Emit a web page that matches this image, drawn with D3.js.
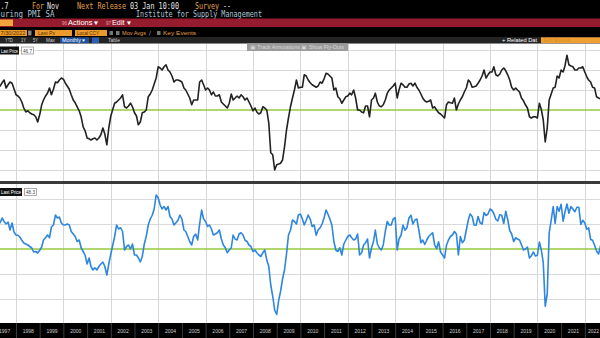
<!DOCTYPE html>
<html>
<head>
<meta charset="utf-8">
<script src="https://cdn.jsdelivr.net/npm/d3@7"></script>
<style>
  html, body { margin: 0; padding: 0; background: #000; overflow: hidden; }
  svg { display: block; }
</style>
</head>
<body>
<svg id="chart" width="600" height="338"></svg>
<script>
// Monthly series, first value is January of this year
const firstYear = 1997;

// ISM Manufacturing PMI, seasonally adjusted (one row per year)
const pmi = [
  53.5, 54.5, 55.7, 56.0, 56.8, 57.5, 55.5, 56.3, 57.0, 56.7, 55.3, 53.8,
  53.5, 53.0, 52.0, 50.5, 49.5, 49.8, 49.3, 49.0, 48.8, 48.3, 47.0, 48.8,
  51.3, 52.5, 53.5, 54.2, 55.5, 53.8, 55.2, 57.0, 56.8, 57.5, 58.0, 57.7,
  56.7, 56.0, 55.2, 53.8, 52.5, 51.8, 50.8, 49.8, 48.3, 45.8, 44.8, 43.0,
  42.8, 42.5, 42.8, 43.0, 42.5, 43.0, 43.8, 45.5, 44.0, 41.3, 45.5, 48.5,
  50.2, 51.7, 52.0, 52.5, 53.0, 53.8, 50.8, 50.5, 51.0, 51.7, 50.8, 49.3,
  48.5, 46.3, 47.0, 49.3, 49.5, 50.0, 53.3, 54.0, 55.0, 56.5, 58.0, 60.8,
  60.5, 60.0, 60.8, 61.3, 60.0, 59.5, 58.5, 57.0, 57.5, 57.5, 57.3, 57.0,
  55.5, 55.0, 54.0, 53.0, 51.3, 52.5, 52.5, 52.5, 57.0, 57.5, 56.3, 55.0,
  55.5, 55.0, 53.8, 54.5, 53.5, 53.5, 53.8, 52.0, 51.5, 51.0, 50.5, 51.7,
  54.0, 52.5, 53.0, 53.5, 53.0, 53.8, 53.3, 52.5, 53.0, 52.0, 51.0, 49.8,
  50.5, 49.5, 49.0, 49.3, 50.8, 50.5, 50.0, 46.7, 39.3, 38.8, 35.0, 36.3,
  36.5, 36.7, 37.5, 40.8, 45.0, 48.0, 50.8, 53.0, 55.0, 57.5, 55.5, 55.7,
  55.7, 58.8, 58.5, 57.5, 56.8, 56.3, 56.0, 55.7, 56.0, 57.0, 56.7, 57.8,
  59.2, 59.0, 58.5, 58.0, 55.0, 55.5, 53.3, 52.8, 51.7, 52.5, 53.3, 53.5,
  54.2, 53.8, 55.0, 53.0, 50.0, 50.0, 49.5, 49.3, 51.0, 51.0, 48.3, 52.5,
  53.0, 54.2, 52.0, 51.0, 50.8, 51.3, 52.5, 54.2, 55.0, 55.5, 56.0, 56.7,
  53.0, 55.0, 56.7, 56.3, 55.7, 55.7, 56.5, 56.7, 56.0, 56.7, 55.7, 55.0,
  54.0, 53.0, 52.3, 52.0, 52.2, 52.5, 50.5, 50.8, 50.0, 49.3, 49.0, 48.5,
  48.0, 51.3, 52.0, 51.8, 51.7, 53.0, 50.0, 51.5, 52.5, 53.3, 54.5, 55.5,
  57.5, 57.0, 55.7, 55.8, 56.0, 56.7, 57.5, 58.5, 60.0, 58.0, 58.8, 59.5,
  59.5, 60.8, 58.8, 58.5, 59.0, 60.0, 60.5, 59.8, 58.8, 57.5, 55.7, 55.0,
  55.5, 55.0, 54.5, 53.0, 52.3, 51.3, 50.5, 48.3, 48.0, 48.3, 48.3, 48.0,
  51.7, 50.2, 47.5, 42.0, 45.5, 52.5, 54.0, 55.5, 55.7, 58.5, 58.0, 60.0,
  59.5, 61.0, 63.7, 61.3, 61.0, 60.8, 60.0, 60.0, 60.5, 60.5, 60.8, 59.5,
  58.3, 57.5, 57.0, 55.7, 55.5, 53.3, 53.0, 52.8, 50.9, 50.2, 49.0, 48.4,
  47.4, 47.7, 46.3, 47.1, 46.9, 46.0, 46.4, 47.6, 49.0, 46.7, 46.7
];

// ISM Manufacturing New Orders index (one row per year)
const newOrders = [
  58.0, 59.0, 61.6, 60.5, 62.4, 61.0, 60.0, 60.8, 57.6, 60.4, 56.8, 55.6,
  55.5, 54.8, 53.5, 52.4, 52.0, 51.6, 51.0, 50.4, 48.8, 49.0, 48.4, 49.5,
  50.8, 53.6, 54.5, 55.6, 54.5, 58.8, 59.6, 63.6, 62.4, 62.8, 60.4, 59.6,
  59.6, 60.0, 59.6, 57.0, 56.0, 55.0, 53.0, 53.6, 50.5, 49.0, 47.5, 44.0,
  46.4, 43.0, 41.6, 42.5, 41.6, 43.0, 44.0, 44.8, 43.0, 39.6, 44.0, 48.0,
  51.6, 55.0, 59.6, 58.0, 58.5, 57.0, 49.6, 51.0, 51.6, 50.0, 52.0, 47.6,
  47.6, 46.5, 44.8, 47.0, 52.0, 55.0, 59.6, 62.0, 63.5, 66.0, 71.6, 70.5,
  67.6, 66.0, 67.0, 65.6, 67.0, 63.0, 62.0, 59.6, 60.5, 61.5, 63.6, 62.0,
  57.6, 57.0, 55.0, 53.0, 51.6, 55.0, 56.0, 53.6, 60.0, 65.6, 62.0, 61.0,
  59.0, 59.6, 58.0, 55.6, 56.0, 56.5, 57.6, 54.0, 51.6, 50.5, 48.5, 49.6,
  50.5, 55.6, 54.0, 53.6, 56.0, 56.5, 55.6, 53.5, 53.0, 51.6, 51.0, 49.0,
  49.6, 48.5, 47.6, 47.0, 48.5, 49.6, 45.6, 43.0, 35.6, 31.0, 25.5, 23.8,
  29.6, 33.0, 38.0, 41.6, 48.0, 55.6, 57.5, 61.6, 61.0, 60.0, 63.6, 64.0,
  62.0, 59.6, 61.5, 63.6, 62.0, 59.0, 59.6, 55.5, 57.6, 58.5, 60.0, 62.5,
  65.6, 64.0, 62.0, 59.6, 53.0, 49.6, 49.0, 50.5, 47.6, 52.0, 53.5, 55.0,
  55.6, 54.5, 53.6, 54.0, 56.0, 47.6, 48.5, 51.6, 52.5, 54.0, 46.4, 50.5,
  53.0, 57.6, 52.0, 50.5, 49.6, 51.6, 57.0, 61.0, 59.6, 59.6, 62.0, 62.5,
  49.6, 54.0, 55.5, 59.6, 57.5, 58.5, 62.4, 63.5, 60.0, 61.6, 62.0, 57.5,
  52.5, 53.6, 51.8, 53.5, 55.0, 55.8, 56.5, 51.7, 50.1, 52.9, 48.8, 47.6,
  46.4, 51.5, 53.6, 55.0, 55.6, 57.0, 56.0, 47.6, 55.0, 52.5, 53.5, 57.6,
  61.6, 64.0, 63.0, 59.6, 59.5, 63.0, 60.5, 60.0, 64.6, 63.4, 64.0, 66.0,
  65.4, 64.2, 61.9, 61.2, 63.7, 63.5, 60.2, 65.1, 61.8, 57.4, 56.0, 53.0,
  54.5, 54.0, 53.6, 51.7, 49.6, 50.0, 50.8, 46.4, 47.3, 48.8, 47.2, 47.5,
  52.8, 49.8, 44.5, 27.1, 32.0, 56.4, 61.5, 67.0, 60.2, 67.0, 65.1, 67.9,
  61.1, 64.8, 68.0, 64.3, 67.0, 66.0, 64.9, 66.7, 66.7, 59.8, 61.5, 60.4,
  57.9, 58.5, 53.8, 53.5, 51.5, 49.2, 48.0, 51.3, 47.1, 49.2, 47.2, 45.2,
  42.5, 47.0, 44.3, 45.7, 42.6, 45.6, 47.3, 46.8, 49.2, 45.5, 48.3
];

const yearLabels = [1997, 1998, 1999, 2000, 2001, 2002, 2003, 2004, 2005, 2006, 2007, 2008, 2009,
                    2010, 2011, 2012, 2013, 2014, 2015, 2016, 2017, 2018, 2019, 2020, 2021, 2022, 2023];
const pmiGridValues = [35, 40, 45, 55, 60, 65];
const ordersGridValues = [30, 40, 60, 70];
const expansionLevel = 50;
const lastPmi = "46.7";
const lastOrders = "48.3";

const svg = d3.select("#chart");
const W = 600;

// ---- header strip ----------------------------------------------------------
svg.append("rect").attr("x", 0).attr("y", 0).attr("width", W).attr("height", 44).attr("fill", "#000");

function label(x, y, str, opt) {
  const t = svg.append("text").attr("x", x).attr("y", y).text(str)
    .attr("fill", opt.fill || "#ddd")
    .attr("font-family", opt.family || "'DejaVu Sans Mono', monospace")
    .attr("font-size", opt.size || 8)
    .attr("font-weight", opt.weight || "normal");
  if (opt.len) t.attr("textLength", opt.len).attr("lengthAdjust", "spacingAndGlyphs");
  if (opt.anchor) t.attr("text-anchor", opt.anchor);
  return t;
}
const amber = "#e3a04a", white = "#e8e8e8", pale = "#a9c7d6";

// row 1: last value and release details
label(0.5, 8.5, ".7", { fill: white, len: 8 });
label(32, 8.5, "For", { fill: amber, len: 12 });
label(47, 8.5, "Nov", { fill: white, len: 12 });
label(77, 8.5, "Next Release", { fill: amber, len: 49 });
label(130, 8.5, "03 Jan 10:00", { fill: white, len: 49 });
label(195, 8.5, "Survey", { fill: amber, len: 24 });
label(223, 8.5, "--", { fill: white, len: 8 });

// row 2: security description and source
label(0.5, 16.5, "uring PMI SA", { fill: pale, len: 54 });
label(136, 16.5, "Institute for Supply Management", { fill: pale, len: 126 });

// red action bar
svg.append("rect").attr("x", 0).attr("y", 18.5).attr("width", W).attr("height", 8.5).attr("fill", "#951c2e");
svg.append("rect").attr("x", 0).attr("y", 19.5).attr("width", 13).attr("height", 6.5).attr("fill", "#f2a53a");
label(62, 25, "96", { fill: "#f0a0a8", size: 5, family: "'Liberation Sans', sans-serif", len: 5 });
label(68, 25.2, "Actions \u25BE", { fill: "#fff", size: 6.5, family: "'Liberation Sans', sans-serif", len: 31 });
label(106, 25, "97", { fill: "#f0a0a8", size: 5, family: "'Liberation Sans', sans-serif", len: 5 });
label(112, 25.2, "Edit \u25BE", { fill: "#fff", size: 6.5, family: "'Liberation Sans', sans-serif", len: 19 });

// row 3: settings fields
const fieldFill = "#eb9a2c", fieldText = "#5a3000";
svg.append("rect").attr("x", 0).attr("y", 30).attr("width", 27).attr("height", 6).attr("fill", fieldFill);
label(0.5, 35.3, "7/30/2022", { fill: fieldText, size: 5.5, family: "'Liberation Sans', sans-serif", len: 25 });
svg.append("rect").attr("x", 28).attr("y", 30.5).attr("width", 3.5).attr("height", 5).attr("fill", "#888");
svg.append("rect").attr("x", 35).attr("y", 30).attr("width", 37).attr("height", 6).attr("fill", fieldFill);
label(38, 35.3, "Last Px", { fill: fieldText, size: 5.5, family: "'Liberation Sans', sans-serif", len: 17 });
svg.append("rect").attr("x", 75).attr("y", 30).attr("width", 32).attr("height", 6).attr("fill", fieldFill);
label(77, 35.3, "Local CCY", { fill: fieldText, size: 5.5, family: "'Liberation Sans', sans-serif", len: 22 });
svg.append("rect").attr("x", 109.5).attr("y", 31).attr("width", 3.5).attr("height", 4).attr("fill", "#777");
svg.append("rect").attr("x", 116).attr("y", 31).attr("width", 3.5).attr("height", 4).attr("fill", "#777");
label(122, 35.3, "Mov Avgs", { fill: amber, size: 5.5, family: "'Liberation Sans', sans-serif", len: 24 });
label(149, 35.3, "\u2215", { fill: "#bbb", size: 5.5, family: "'DejaVu Sans', sans-serif" });
svg.append("rect").attr("x", 157).attr("y", 31).attr("width", 3.5).attr("height", 4).attr("fill", "#777");
label(163, 35.3, "Key Events", { fill: amber, size: 5.5, family: "'Liberation Sans', sans-serif", len: 33 });

// row 4: range toolbar
svg.append("rect").attr("x", 0).attr("y", 37).attr("width", W).attr("height", 6.5).attr("fill", "#242424");
const tb = { fill: "#cfcfcf", size: 4.6, family: "'Liberation Sans', sans-serif" };
label(5, 42, "YTD", Object.assign({ len: 8 }, tb));
label(21, 42, "1Y", Object.assign({ len: 5 }, tb));
label(33, 42, "5Y", Object.assign({ len: 5 }, tb));
label(46, 42, "Max", Object.assign({ len: 9 }, tb));
svg.append("rect").attr("x", 60).attr("y", 37.5).attr("width", 29).attr("height", 5.5).attr("fill", "#1c4fa0");
label(62, 42, "Monthly \u25BE", { fill: "#fff", size: 4.6, family: "'Liberation Sans', sans-serif", len: 24 });
svg.append("rect").attr("x", 92).attr("y", 37.5).attr("width", 7).attr("height", 5.5).attr("fill", "#2b5fb5");
label(108, 42, "Table", Object.assign({ len: 12 }, tb));
label(502, 42, "+ Related Dat", { fill: "#fff", size: 4.6, family: "'Liberation Sans', sans-serif", len: 35 });
svg.append("rect").attr("x", 541).attr("y", 37.3).attr("width", 59).attr("height", 5.9).attr("fill", "#f0a033");
label(544, 42, "Edit Events", { fill: "#d88a22", size: 4.6, family: "'Liberation Sans', sans-serif", len: 26 });

// ---- panels ---------------------------------------------------------------
const topPanel = { y0: 43.5, y1: 181 };
const botPanel = { y0: 184, y1: 323 };

svg.append("rect").attr("x", 0).attr("y", topPanel.y0).attr("width", W).attr("height", topPanel.y1 - topPanel.y0).attr("fill", "#fff");
svg.append("rect").attr("x", 0).attr("y", topPanel.y1).attr("width", W).attr("height", botPanel.y0 - topPanel.y1).attr("fill", "#3a3a3a");
svg.append("rect").attr("x", 0).attr("y", botPanel.y0).attr("width", W).attr("height", botPanel.y1 - botPanel.y0).attr("fill", "#fff");
svg.append("rect").attr("x", 0).attr("y", botPanel.y1).attr("width", W).attr("height", 338 - botPanel.y1).attr("fill", "#000");

// scales
const x = d3.scaleTime()
  .domain([new Date(1998, 0, 1), new Date(2022, 0, 1)])
  .range([16, 584.8]);
const yTop = d3.scaleLinear().domain([50, 65]).range([110, 50]);
const yBot = d3.scaleLinear().domain([50, 70]).range([249, 199]);

// each monthly reading sits at the end of its month
const monthDate = i => new Date(firstYear, i + 1, 1);

const evenYears = yearLabels.filter(y => y % 2 === 0).map(y => new Date(y, 0, 1));

function drawGrid(panel, yScale, values) {
  const g = svg.append("g");
  // vertical grid every two years
  g.append("g")
    .attr("transform", `translate(0,${panel.y1})`)
    .call(d3.axisBottom(x).tickValues(evenYears).tickSize(-(panel.y1 - panel.y0)).tickFormat(""))
    .call(a => a.select(".domain").remove())
    .call(a => a.selectAll("line").attr("stroke", "#d6d6d6").attr("stroke-width", 1)
      .attr("shape-rendering", "crispEdges"));
  // horizontal grid
  g.append("g")
    .call(d3.axisLeft(yScale).tickValues(values).tickSize(-W).tickFormat(""))
    .call(a => a.select(".domain").remove())
    .call(a => a.selectAll("line").attr("stroke", "#dadada").attr("stroke-width", 1)
      .attr("shape-rendering", "crispEdges"));
  // 50 = expansion / contraction threshold
  g.append("line")
    .attr("x1", 0).attr("x2", W)
    .attr("y1", yScale(expansionLevel)).attr("y2", yScale(expansionLevel))
    .attr("stroke", "#96c93d").attr("stroke-width", 1.6);
}

drawGrid(topPanel, yTop, pmiGridValues);
drawGrid(botPanel, yBot, ordersGridValues);

// clip lines to their panels
const defs = svg.append("defs");
defs.append("clipPath").attr("id", "clipTop").append("rect")
  .attr("x", 0).attr("y", topPanel.y0).attr("width", W).attr("height", topPanel.y1 - topPanel.y0);
defs.append("clipPath").attr("id", "clipBot").append("rect")
  .attr("x", 0).attr("y", botPanel.y0).attr("width", W).attr("height", botPanel.y1 - botPanel.y0);

const lineTop = d3.line().x((d, i) => x(monthDate(i))).y(d => yTop(d));
const lineBot = d3.line().x((d, i) => x(monthDate(i))).y(d => yBot(d));

svg.append("path").datum(pmi)
  .attr("clip-path", "url(#clipTop)")
  .attr("d", lineTop)
  .attr("fill", "none").attr("stroke", "#222").attr("stroke-width", 1.6)
  .attr("stroke-linejoin", "round");

svg.append("path").datum(newOrders)
  .attr("clip-path", "url(#clipBot)")
  .attr("d", lineBot)
  .attr("fill", "none").attr("stroke", "#2e86de").attr("stroke-width", 1.6)
  .attr("stroke-linejoin", "round");

// chart tools overlay at top of upper panel
svg.append("rect").attr("x", 247).attr("y", 43.5).attr("width", 101).attr("height", 7.5).attr("fill", "#9b9b9b");
label(250, 49, "\u25A3 Track Annotations  \u25A3 Show Fly-Outs", { fill: "#d8d8d8", size: 4.5, family: "'Liberation Sans', sans-serif", len: 94 });

// legends
function legend(y, boxW, value) {
  svg.append("rect").attr("x", 0).attr("y", y).attr("width", boxW).attr("height", 8).attr("fill", "#111");
  label(1, y + 6, "Last Price", { fill: "#fff", size: 5.2, family: "'Liberation Sans', sans-serif", len: boxW - 2 });
  svg.append("rect").attr("x", boxW + 2.5).attr("y", y + 0.5).attr("width", 12).attr("height", 7)
    .attr("fill", "#fff").attr("stroke", "#999").attr("stroke-width", 0.8);
  label(boxW + 4, y + 6, value, { fill: "#444", size: 5, family: "'Liberation Sans', sans-serif", len: 9 });
}
legend(46.5, 19, lastPmi);
legend(188, 22, lastOrders);

// ---- time axis ------------------------------------------------------------
const axisG = svg.append("g").attr("transform", `translate(0,${botPanel.y1})`);
axisG.call(d3.axisBottom(x)
    .tickValues(yearLabels.map(y => new Date(y, 0, 1)))
    .tickSize(15).tickFormat(""))
  .call(a => a.select(".domain").remove())
  .call(a => a.selectAll("line").attr("stroke", "#3c3c3c").attr("stroke-width", 1));

// year labels centred in each year; the one at the right edge is kept inside the frame
const labelAxis = svg.append("g").attr("transform", `translate(0,${botPanel.y1})`);
labelAxis.call(d3.axisBottom(x)
    .tickValues(yearLabels.filter(y => x(new Date(y, 6, 2)) < W).map(y => new Date(y, 6, 2)))
    .tickSize(0).tickPadding(6)
    .tickFormat(d3.timeFormat("%Y")))
  .call(a => a.select(".domain").remove())
  .call(a => a.selectAll("text")
    .attr("fill", "#cfcfcf")
    .attr("font-size", 5)
    .attr("font-family", "'Liberation Sans', sans-serif"))
  .call(a => a.selectAll(".tick").each(function () {
    const tick = d3.select(this);
    const cx = +tick.attr("transform").match(/translate\(([-\d.]+)/)[1];
    const text = tick.select("text");
    const half = text.node().getComputedTextLength() / 2;
    if (cx + half > W - 1) text.attr("text-anchor", "end").attr("x", W - 1 - cx);
  }));
</script>
</body>
</html>
